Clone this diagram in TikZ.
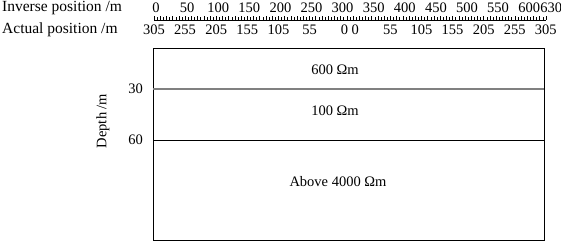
\documentclass[tikz,border=0pt]{standalone}
\usepackage{fontspec}
\setmainfont{Liberation Serif}
\begin{document}
\begin{tikzpicture}[x=1pt, y=-1pt, font=\fontsize{14.5}{16}\selectfont, inner sep=0pt]
    \useasboundingbox (0,0) rectangle (561,246);
    % axis titles
    \node [anchor=west, font=\fontsize{15.5}{17}\selectfont] (inv) at (2,8) {Inverse position /m};
    \node [anchor=west, font=\fontsize{15.5}{17}\selectfont] (act) at (2,29.5) {Actual position /m};

    % ruler
    \draw [line width=0.5pt] (154,20) -- (546,20);
    \foreach \m in {0,10,...,630}
        \draw [line width=0.5pt] (154+\m*0.622,20) -- ++(0,-4);
    \foreach \m in {5,15,...,625}
        \draw [line width=0.5pt] (154+\m*0.622,20) -- ++(0,-2.5);

    % inverse positions
    \foreach \m in {0,50,...,600}
        \node (t\m) at (156+\m*0.622,8) {\m};
    \node [anchor=west] (t630) at (t600.east) {630};

    % actual positions
    \foreach \m/\v in {0/305,50/255,100/205,150/155,200/105,250/55,
                       380/55,430/105,480/155,530/205,580/255,630/305}
        \node (b\m) at (154+\m*0.622,29.5) {\v};
    \node (b315) at (154+315*0.622,29.5) {0 0};

    % section
    \draw [line width=0.7pt] (153,48) rectangle (544,240);
    \draw [line width=1.2pt, gray] (153,89) -- (544,89);
    \draw [line width=0.8pt] (153,140) -- (544,140);

    \node [anchor=east] (d30) at (143,89) {30};
    \node [anchor=east] (d60) at (143,140) {60};
    \node [rotate=90] (depth) at (103,121) {Depth /m};

    \node (r1) at (335,70) {600 Ωm};
    \node (r2) at (335,111) {100 Ωm};
    \node (r3) at (338,182) {Above 4000 Ωm};
\end{tikzpicture}
\end{document}
